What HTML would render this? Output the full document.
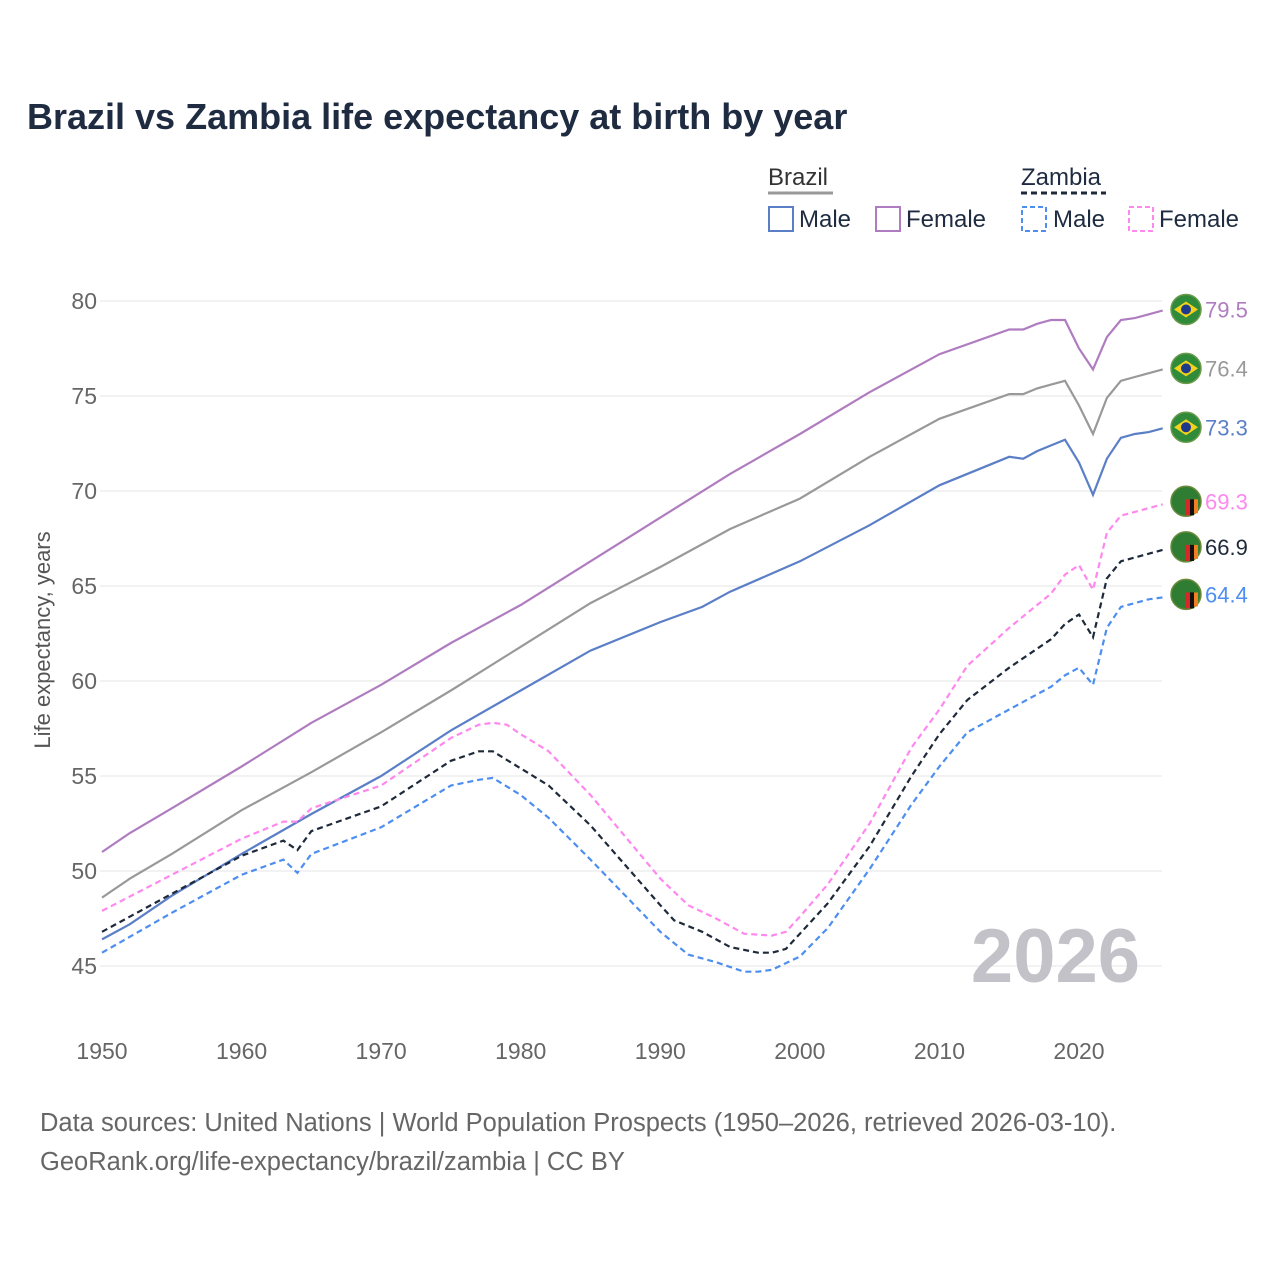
<!DOCTYPE html>
<html><head><meta charset="utf-8"><style>
body{margin:0;background:#fff;}
svg text{font-family:"Liberation Sans",sans-serif;}
</style></head><body>
<svg id="chart" width="1280" height="1280" xmlns="http://www.w3.org/2000/svg">
<rect width="1280" height="1280" fill="#fff"/>
<text x="27" y="129" font-size="36" font-weight="bold" fill="#1e2b40">Brazil vs Zambia life expectancy at birth by year</text>
<g font-size="24" fill="#1e2b40">
<text x="768" y="185" fill="#333">Brazil</text>
<line x1="768" y1="193" x2="833" y2="193" stroke="#999" stroke-width="3"/>
<text x="1021" y="185" fill="#1e2b40">Zambia</text>
<line x1="1021" y1="193" x2="1106" y2="193" stroke="#1e2a3a" stroke-width="3" stroke-dasharray="6,4"/>
<g><rect x="769" y="207" width="24" height="24" fill="none" stroke="#5b7fc7" stroke-width="2"/><text x="799" y="227">Male</text></g>
<g><rect x="876" y="207" width="24" height="24" fill="none" stroke="#b07cc0" stroke-width="2"/><text x="906" y="227">Female</text></g>
<g><rect x="1022" y="207" width="24" height="24" fill="none" stroke="#4d8ef0" stroke-width="2" stroke-dasharray="5,3"/><text x="1053" y="227">Male</text></g>
<g><rect x="1129" y="207" width="24" height="24" fill="none" stroke="#ff88ee" stroke-width="2" stroke-dasharray="5,3"/><text x="1159" y="227">Female</text></g>
</g>
<g id="grid"></g>
<text x="1140" y="982" text-anchor="end" font-size="76" font-weight="bold" fill="#c2c2c8">2026</text>
<g id="series"></g>
<g id="labels"></g>
<text transform="translate(50,640) rotate(-90)" text-anchor="middle" font-size="22" fill="#555">Life expectancy, years</text>
<text x="40" y="1131" font-size="25.5" fill="#666">Data sources: United Nations | World Population Prospects (1950–2026, retrieved 2026-03-10).</text>
<text x="40" y="1170" font-size="25.5" fill="#666">GeoRank.org/life-expectancy/brazil/zambia | CC BY</text>
</svg>
<script>
const yTicks=[45,50,55,60,65,70,75,80];
const xTicks=[1950,1960,1970,1980,1990,2000,2010,2020];
const brFemYears=[1950,1952,1955,1960,1965,1970,1975,1980,1985,1990,1995,2000,2005,2010,2015,2016,2017,2018,2019,2020,2021,2022,2023,2024,2025,2026];
const brFemVals=[51.0,52.0,53.3,55.5,57.8,59.8,62.0,64.0,66.3,68.6,70.9,73.0,75.2,77.2,78.5,78.5,78.8,79.0,79.0,77.5,76.4,78.1,79.0,79.1,79.3,79.5];
const brTotYears=[1950,1952,1955,1960,1965,1970,1975,1980,1985,1990,1995,2000,2005,2010,2015,2016,2017,2018,2019,2020,2021,2022,2023,2024,2025,2026];
const brTotVals=[48.6,49.6,50.9,53.2,55.2,57.3,59.5,61.8,64.1,66.0,68.0,69.6,71.8,73.8,75.1,75.1,75.4,75.6,75.8,74.5,73.0,74.9,75.8,76.0,76.2,76.4];
const brMalYears=[1950,1952,1955,1960,1965,1970,1975,1980,1985,1990,1993,1995,2000,2005,2010,2015,2016,2017,2018,2019,2020,2021,2022,2023,2024,2025,2026];
const brMalVals=[46.4,47.2,48.7,50.9,53.0,55.0,57.4,59.5,61.6,63.1,63.9,64.7,66.3,68.2,70.3,71.8,71.7,72.1,72.4,72.7,71.5,69.8,71.7,72.8,73.0,73.1,73.3];
const zmFemYears=[1950,1955,1960,1963,1964,1965,1970,1975,1977,1978,1979,1980,1982,1985,1990,1992,1994,1996,1998,1999,2000,2002,2005,2008,2010,2012,2015,2018,2019,2020,2021,2022,2023,2024,2025,2026];
const zmFemVals=[47.9,49.8,51.7,52.6,52.6,53.3,54.5,57.0,57.7,57.8,57.7,57.2,56.3,54.0,49.6,48.2,47.5,46.7,46.6,46.8,47.6,49.3,52.5,56.5,58.5,60.8,62.8,64.6,65.6,66.1,64.8,67.8,68.7,68.9,69.1,69.3];
const zmTotYears=[1950,1955,1960,1963,1964,1965,1970,1975,1977,1978,1980,1982,1985,1990,1991,1993,1995,1997,1998,1999,2000,2002,2005,2008,2010,2012,2015,2018,2019,2020,2021,2022,2023,2024,2025,2026];
const zmTotVals=[46.8,48.8,50.8,51.6,51.1,52.1,53.4,55.8,56.3,56.3,55.4,54.5,52.4,48.2,47.4,46.8,46.0,45.7,45.7,45.9,46.7,48.3,51.3,55.0,57.2,59.0,60.7,62.2,63.0,63.5,62.3,65.4,66.3,66.5,66.7,66.9];
const zmMalYears=[1950,1955,1960,1963,1964,1965,1970,1975,1977,1978,1980,1982,1985,1990,1992,1994,1996,1997,1998,2000,2002,2005,2008,2010,2012,2015,2018,2019,2020,2021,2022,2023,2024,2025,2026];
const zmMalVals=[45.7,47.8,49.8,50.6,49.9,50.9,52.3,54.5,54.8,54.9,54.0,52.8,50.6,46.8,45.6,45.2,44.7,44.7,44.8,45.5,47.0,50.1,53.5,55.5,57.3,58.5,59.7,60.3,60.7,59.8,62.8,63.9,64.1,64.3,64.4];
const X=y=>102+(y-1950)*(977/70);
const Y=v=>966-(v-45)*19;
const NS="http://www.w3.org/2000/svg";
const grid=document.getElementById('grid');
yTicks.forEach(t=>{
 const l=document.createElementNS(NS,'line');
 l.setAttribute('x1',100);l.setAttribute('x2',1162);l.setAttribute('y1',Y(t));l.setAttribute('y2',Y(t));
 l.setAttribute('stroke','#e6e6e6');l.setAttribute('stroke-width','1');
 
 
 grid.appendChild(l);
 const tx=document.createElementNS(NS,'text');
 tx.setAttribute('x',97);tx.setAttribute('y',Y(t)+8);tx.setAttribute('text-anchor','end');
 tx.setAttribute('font-size','23');tx.setAttribute('fill','#666');tx.textContent=t;
 
 
 grid.appendChild(tx);
});
xTicks.forEach(t=>{
 const tx=document.createElementNS(NS,'text');
 tx.setAttribute('x',X(t));tx.setAttribute('y',1059);tx.setAttribute('text-anchor','middle');
 tx.setAttribute('font-size','23');tx.setAttribute('fill','#666');tx.textContent=t;
 
 
 grid.appendChild(tx);
});
const series=[
 [brFemYears,brFemVals,'#b07cc0',false,'brazil-female-line','brazil'],
 [brTotYears,brTotVals,'#999999',false,'brazil-total-line','brazil'],
 [brMalYears,brMalVals,'#5b7fc7',false,'brazil-male-line','brazil'],
 [zmFemYears,zmFemVals,'#ff88ee',true,'zambia-female-line','zambia'],
 [zmTotYears,zmTotVals,'#1e2a3a',true,'zambia-total-line','zambia'],
 [zmMalYears,zmMalVals,'#4d8ef0',true,'zambia-male-line','zambia']
];
const sg=document.getElementById('series'), lg=document.getElementById('labels');
series.forEach(s=>{
 const [ys,vs,c,dash,name,country]=s;
 const p=document.createElementNS(NS,'path');
 p.setAttribute('d',ys.map((y,i)=>(i?'L':'M')+X(y).toFixed(1)+','+Y(vs[i]).toFixed(1)).join(' '));
 p.setAttribute('fill','none');p.setAttribute('stroke',c);p.setAttribute('stroke-width','2.2');
 if(dash)p.setAttribute('stroke-dasharray','6,4');
 
 
 sg.appendChild(p);
 const last=vs[vs.length-1], cx=1186, cy=Y(last)+(country==='zambia'?-3:-1);
 const g=document.createElementNS(NS,'g');
 
 
 if(country==='brazil'){
  g.innerHTML=`<circle cx="${cx}" cy="${cy}" r="15" fill="#2f8a3a" stroke="#6a9a4a" stroke-width="1.5"/><path d="M${cx-12},${cy} L${cx},${cy-8} L${cx+12},${cy} L${cx},${cy+8}Z" fill="#f2d21a"/><circle cx="${cx}" cy="${cy}" r="5" fill="#1f3a8a"/>`;
 }else{
  g.innerHTML=`<circle cx="${cx}" cy="${cy}" r="15" fill="#2f7d32" stroke="#6a8a3a" stroke-width="1.5"/><rect x="${cx}" y="${cy-2}" width="4" height="16" fill="#d62828"/><rect x="${cx+4}" y="${cy-2}" width="4" height="16" fill="#111"/><rect x="${cx+8}" y="${cy-2}" width="4" height="14" fill="#f08020"/>`;
 }
 lg.appendChild(g);
 const t=document.createElementNS(NS,'text');
 t.setAttribute('x',1205);t.setAttribute('y',cy+8);t.setAttribute('font-size','22');t.setAttribute('fill',c);
 t.textContent=last.toFixed(1);
 
 
 lg.appendChild(t);
});
</script>
</body></html>
